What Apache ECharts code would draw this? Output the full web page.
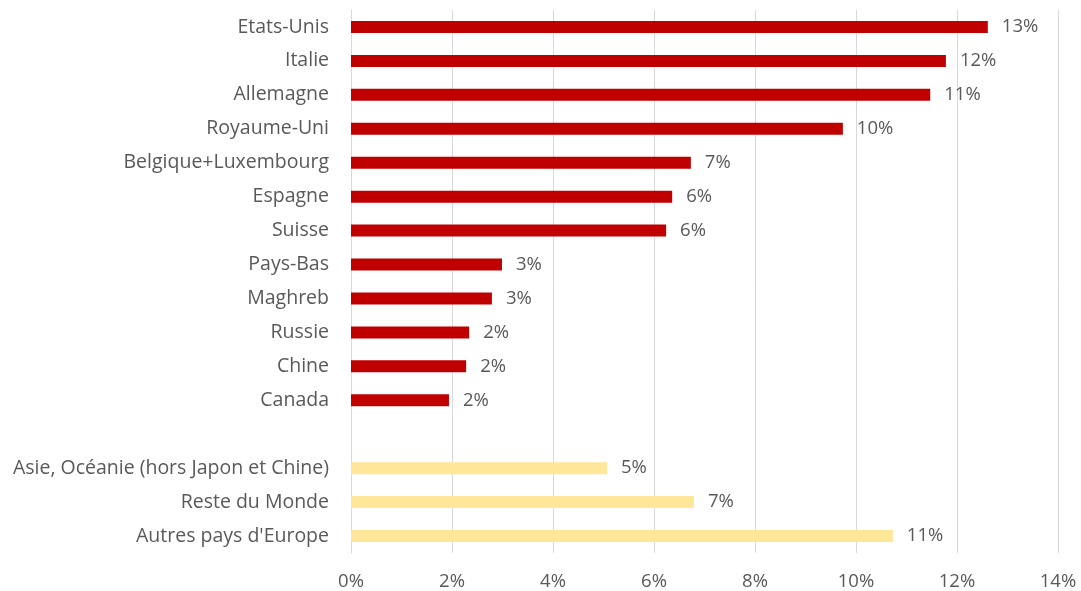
<!DOCTYPE html>
<html>
<head>
<meta charset="utf-8">
<script src="https://cdn.jsdelivr.net/npm/echarts@6/dist/echarts.min.js"></script>
<style>
    html, body { margin: 0; padding: 0; background: #fff; }
    #chart { width: 1081px; height: 591px; }
</style>
</head>
<body>
<div id="chart"></div>
<script>
// pays (rouge)
const countries = ['Etats-Unis', 'Italie', 'Allemagne', 'Royaume-Uni', 'Belgique+Luxembourg',
    'Espagne', 'Suisse', 'Pays-Bas', 'Maghreb', 'Russie', 'Chine', 'Canada'];
const countryValues = [12.61, 11.78, 11.47, 9.74, 6.73, 6.36, 6.24, 2.99, 2.79, 2.34, 2.28, 1.94];
// regroupements (jaune)
const groups = ['Asie, Océanie (hors Japon et Chine)', 'Reste du Monde', "Autres pays d'Europe"];
const groupValues = [5.07, 6.79, 10.73];
const xTicks = [0, 2, 4, 6, 8, 10, 12, 14];

const categories = countries.concat([''], groups);
const redData = countryValues.concat(['-'], groups.map(() => '-'));
const yellowData = countries.map(() => '-').concat(['-'], groupValues);

const fontFamily = 'Open Sans';
const textColor = '#595959';
const fontSize = 18.5;

const chart = echarts.init(document.getElementById('chart'));
const labelOpt = {
    show: true,
    position: 'right',
    distance: 14,
    color: textColor,
    fontSize: fontSize,
    fontFamily: fontFamily,
    formatter: (p) => Math.round(p.value) + '%'
};
chart.setOption({
    animation: false,
    grid: { left: 351, right: 23, top: 10, bottom: 37 },
    xAxis: {
        type: 'value',
        min: xTicks[0],
        max: xTicks[xTicks.length - 1],
        interval: 2,
        axisLine: { show: false },
        axisTick: { show: false },
        splitLine: { lineStyle: { color: '#d9d9d9', width: 1 } },
        axisLabel: {
            margin: 19,
            color: textColor,
            fontSize: fontSize,
            fontFamily: fontFamily,
            formatter: '{value}%'
        }
    },
    yAxis: {
        type: 'category',
        inverse: true,
        data: categories,
        axisLine: { show: true, lineStyle: { color: '#d9d9d9' } },
        axisTick: { show: false },
        axisLabel: {
            margin: 22,
            color: textColor,
            fontSize: 19.5,
            fontFamily: fontFamily
        }
    },
    series: [
        {
            name: 'Pays',
            type: 'bar',
            stack: 'total',
            barWidth: 12,
            data: redData,
            itemStyle: { color: '#C00000' },
            label: labelOpt
        },
        {
            name: 'Autres',
            type: 'bar',
            stack: 'total',
            barWidth: 12,
            data: yellowData,
            itemStyle: { color: '#FFE699' },
            label: labelOpt
        }
    ]
});
</script>
</body>
</html>
